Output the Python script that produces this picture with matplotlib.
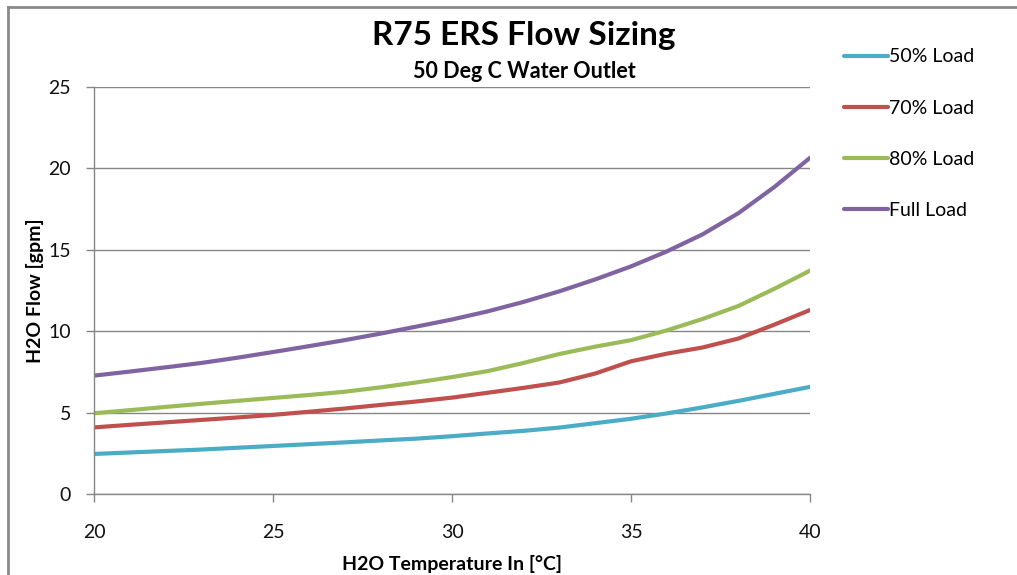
import matplotlib
matplotlib.use("Agg")
import matplotlib.pyplot as plt
from matplotlib.lines import Line2D

plt.rcParams['font.family'] = ['Lato', 'DejaVu Sans']

temps = [20, 21, 22, 23, 24, 25, 26, 27, 28, 29, 30, 31, 32, 33, 34, 35, 36, 37, 38, 39, 40]
load50 = [2.46, 2.55, 2.64, 2.73, 2.84, 2.95, 3.06, 3.17, 3.29, 3.40, 3.55, 3.72, 3.88, 4.08, 4.35,
          4.62, 4.95, 5.32, 5.72, 6.15, 6.58]
load70 = [4.09, 4.25, 4.40, 4.55, 4.70, 4.86, 5.05, 5.25, 5.47, 5.68, 5.92, 6.22, 6.52, 6.85, 7.40,
          8.15, 8.62, 9.00, 9.55, 10.40, 11.30]
load80 = [4.96, 5.15, 5.35, 5.54, 5.72, 5.90, 6.08, 6.28, 6.55, 6.85, 7.18, 7.55, 8.05, 8.60, 9.05,
          9.45, 10.05, 10.75, 11.55, 12.60, 13.72]
loadfull = [7.27, 7.52, 7.78, 8.05, 8.37, 8.72, 9.08, 9.45, 9.85, 10.28, 10.72, 11.22, 11.80, 12.45,
            13.18, 13.98, 14.90, 15.95, 17.25, 18.85, 20.65]
series_labels = ['50% Load', '70% Load', '80% Load', 'Full Load']
colors = ['#4BACC6', '#C0504D', '#9BBB59', '#8064A2']
x_ticks = [20, 25, 30, 35, 40]
y_ticks = [0, 5, 10, 15, 20, 25]

W, H = 1017, 575
fig = plt.figure(figsize=(W / 100, H / 100), dpi=100)
ax = fig.add_axes([94 / W, 1 - 494 / H, (810 - 94) / W, (494 - 87) / H])

for vals, lab, col in zip([load50, load70, load80, loadfull], series_labels, colors):
    ax.plot(temps, vals, color=col, lw=3.0, label=lab, solid_capstyle='round',
            solid_joinstyle='round')

grid_col = '#868686'
ax.set_xlim(20, 40)
ax.set_ylim(0, 25)
ax.set_xticks(x_ticks)
ax.set_yticks(y_ticks)
ax.yaxis.grid(True, color=grid_col, lw=1.0)
ax.set_axisbelow(True)
for s in ['top', 'right']:
    ax.spines[s].set_visible(False)
for s in ['left', 'bottom']:
    ax.spines[s].set_color(grid_col)
    ax.spines[s].set_linewidth(1.0)
ax.tick_params(axis='both', direction='out', length=5.5, width=1.0, color=grid_col,
               labelsize=14, labelcolor='#111111')
ax.tick_params(axis='x', pad=16)
ax.tick_params(axis='y', pad=11)

ax.set_xlabel('H2O Temperature In [°C]', fontsize=14, fontweight='bold', labelpad=10)
ax.set_ylabel('H2O Flow [gpm]', fontsize=14, fontweight='bold', labelpad=3)

fig.text(524 / W, 1 - 36 / H, 'R75 ERS Flow Sizing', fontsize=24, fontweight='bold',
         ha='center', va='center')
fig.text(524 / W, 1 - 71 / H, '50 Deg C Water Outlet', fontsize=15.5, fontweight='bold',
         ha='center', va='center')

fig.legend(loc='upper left', bbox_to_anchor=(826 / W, 1 - 31 / H), frameon=False,
           fontsize=14, handlelength=2.3, handletextpad=0.05, labelspacing=1.75)

# outer chart border
fig.add_artist(Line2D([8 / W, 8 / W], [0, 1 - 7 / H], transform=fig.transFigure,
                      color='#8a8a8a', lw=2.0))
fig.add_artist(Line2D([8 / W, 1.0], [1 - 7 / H, 1 - 7 / H], transform=fig.transFigure,
                      color='#8a8a8a', lw=2.0))

fig.savefig('out.png', dpi=100, facecolor='white')
